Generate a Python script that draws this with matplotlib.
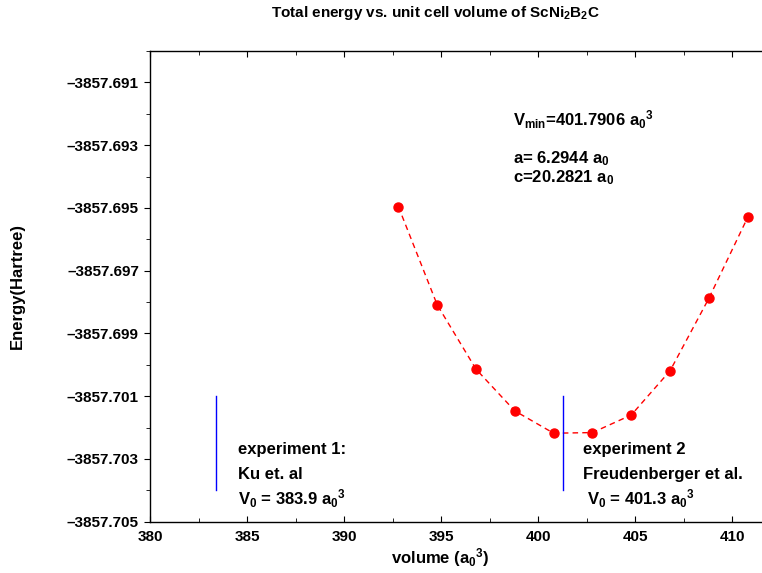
import numpy as np
import matplotlib
matplotlib.use("Agg")
import matplotlib.pyplot as plt
from matplotlib.ticker import FixedLocator, FuncFormatter

plt.rcParams['font.family'] = ['Liberation Sans', 'DejaVu Sans']
plt.rcParams['font.weight'] = 'bold'
plt.rcParams['mathtext.fontset'] = 'custom'
plt.rcParams['mathtext.rm'] = 'Liberation Sans:bold'
plt.rcParams['mathtext.it'] = 'Liberation Sans:bold'
plt.rcParams['mathtext.bf'] = 'Liberation Sans:bold'

# volume (a0^3) and total energy (Hartree)
volume = [392.8, 394.8, 396.8, 398.8, 400.8, 402.8, 404.8, 406.8, 408.8, 410.8]
energy = [-3857.69496, -3857.69809, -3857.70014, -3857.70147, -3857.70218,
          -3857.70216, -3857.70160, -3857.70019, -3857.69788, -3857.69530]

# experimental volumes (drawn as vertical markers)
exp_vol = [383.4, 401.3]
exp_range = [-3857.704, -3857.701]

yticks = [-3857.705, -3857.703, -3857.701, -3857.699, -3857.697, -3857.695,
          -3857.693, -3857.691]

fig = plt.figure(figsize=(7.62, 5.73), dpi=100)
W, H = 762, 573
ax = fig.add_axes([150 / W, 1 - 521.7 / H, 621 / W, (521.7 - 51) / H])

ax.plot(volume, energy, color='red', ls=(0, (4, 3)), lw=1, zorder=2)
ax.plot(volume, energy, 'o', color='red', ms=6.5, zorder=3)
for v in exp_vol:
    ax.plot([v, v], exp_range, color='blue', lw=1)

ax.set_xlim(380, 412)
ax.set_ylim(-3857.705, -3857.690)
ax.xaxis.set_major_locator(FixedLocator([380, 385, 390, 395, 400, 405, 410]))
ax.xaxis.set_minor_locator(FixedLocator(np.arange(382.5, 412, 5)))
ax.yaxis.set_major_locator(FixedLocator(yticks))
ax.yaxis.set_minor_locator(FixedLocator(np.arange(-3857.704, -3857.6899, 0.002)))
ax.yaxis.set_major_formatter(FuncFormatter(lambda v, p: ('%.3f' % v).replace('-', '\u2013')))
ax.tick_params(axis='x', which='both', direction='in', top=True, labelsize=11, pad=6)
ax.tick_params(axis='y', which='both', direction='out', right=False, labelsize=11, pad=4)
ax.tick_params(which='major', length=4)
ax.tick_params(which='minor', length=3)
ax.spines['right'].set_visible(False)
for s in ax.spines.values():
    s.set_linewidth(1)

ax.set_xlabel('volume (a$_0$$^3$)', fontsize=12, fontweight='bold')
ax.xaxis.set_label_coords((440 - 150) / 621, -0.052)
ax.set_ylabel('Energy(Hartree)', fontsize=12, fontweight='bold')
ax.yaxis.set_label_coords(-0.201, 0.5)

fig.text(435 / W, 1 - 13 / H, 'Total energy vs. unit cell volume of ScNi$_2$B$_2$C',
         ha='center', va='center', fontsize=11, fontweight='bold')

kw = dict(fontsize=12, fontweight='bold', va='center')
ax.text(398.7, -3857.6922, 'V$_{min}$=401.7906 a$_0$$^3$', **kw)
ax.text(398.7, -3857.69344, 'a= 6.2944 a$_0$', **kw)
ax.text(398.7, -3857.69403, 'c=20.2821 a$_0$', **kw)
ax.text(384.55, -3857.70271, 'experiment 1:', **kw)
ax.text(384.55, -3857.70351, 'Ku et. al', **kw)
ax.text(384.55, -3857.70427, 'V$_0$ = 383.9 a$_0$$^3$', **kw)
ax.text(402.32, -3857.70271, 'experiment 2', **kw)
ax.text(402.32, -3857.70351, 'Freudenberger et al.', **kw)
ax.text(402.53, -3857.70427, 'V$_0$ = 401.3 a$_0$$^3$', **kw)

fig.savefig('out.png', dpi=100)
